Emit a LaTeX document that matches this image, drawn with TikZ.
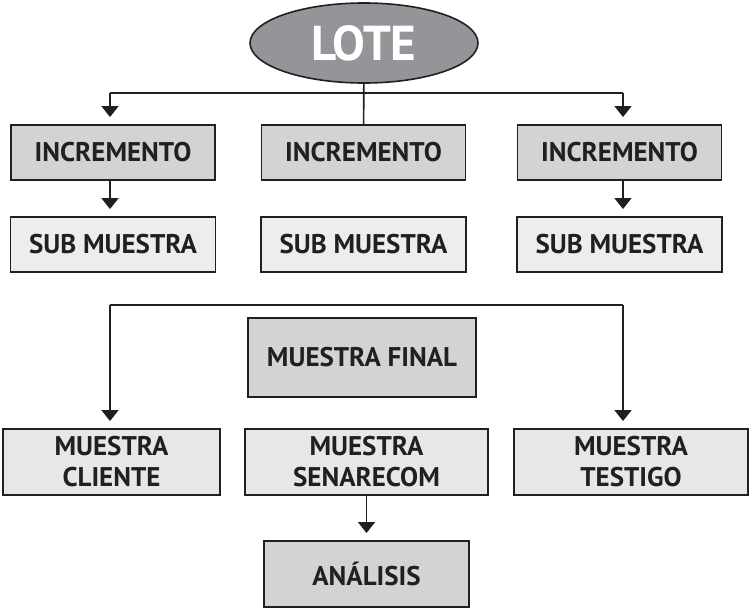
\documentclass[tikz,border=0pt]{standalone}
\usepackage{fontspec}
\setmainfont{PT Sans}
\usepackage{tikz}
\usetikzlibrary{arrows.meta}
\usetikzlibrary{shapes}

\definecolor{lotegray}{HTML}{939598}
\definecolor{midgray}{HTML}{D1D3D4}
\definecolor{lightgray}{HTML}{EDEDED}
\definecolor{palegray}{HTML}{E6E7E8}
\definecolor{inkdark}{HTML}{231F20}

\tikzset{
  caja/.style={draw=inkdark, line width=1.9pt, text=inkdark,
    font=\fontsize{27}{31}\selectfont\bfseries, align=center,
    inner sep=0pt, minimum height=55pt},
  inc/.style={caja, fill=midgray, minimum width=204pt},
  submu/.style={caja, fill=lightgray, minimum width=205pt},
  muestra/.style={caja, fill=palegray, minimum height=66pt},
  enlace/.style={draw=inkdark, line width=1.6pt},
  flecha/.style={enlace, ->, shorten >=7pt}
}

\begin{document}
\begin{tikzpicture}[x=1pt, y=1pt, >={Triangle[width=17pt,length=11pt]}]
  \useasboundingbox (0,0) rectangle (750,-608);

  % lote
  \node[ellipse, draw=inkdark, line width=1.6pt, fill=lotegray, text=white,
    minimum width=228pt, minimum height=80pt, inner sep=0pt,
    font=\fontsize{49}{49}\selectfont\bfseries] (lote) at (364,-43) {LOTE};

  % incrementos y sub muestras
  \foreach \n / \x in {1/113, 2/363.5, 3/619.5} {
    \node[inc] (inc\n) at (\x,-152.5) {INCREMENTO};
    \node[submu] (sub\n) at (\x,-244.5) {SUB MUESTRA};
  }

  \coordinate (split) at (363.5,-93);
  \coordinate (sl) at (110,-93);
  \coordinate (sr) at (623,-93);
  \draw[enlace] (lote) -- (inc2);
  \draw[enlace] (sl) -- (sr);
  \draw[flecha] (sl) -- (sl |- inc1.north);
  \draw[flecha] (sr) -- (sr |- inc3.north);
  \draw[flecha] (sl |- inc1.south) -- (sl |- sub1.north);
  \draw[flecha] (sr |- inc3.south) -- (sr |- sub3.north);

  % muestra final
  \node[caja, fill=midgray, minimum width=228pt, minimum height=79pt]
    (final) at (362,-357.5) {MUESTRA FINAL};

  \node[muestra, minimum width=217pt] (cliente) at (111.5,-462) {MUESTRA\\CLIENTE};
  \node[muestra, minimum width=243pt] (senarecom) at (366.5,-462) {MUESTRA\\SENARECOM};
  \node[muestra, minimum width=234pt] (testigo) at (631,-462) {MUESTRA\\TESTIGO};
  \node[caja, fill=midgray, minimum width=205pt, minimum height=66pt]
    (analisis) at (366.5,-574) {ANÁLISIS};

  \coordinate (fl) at (110,-305);
  \coordinate (fr) at (623,-305);
  \draw[enlace] (fl) -- (fr);
  \draw[flecha] (fl) -- (fl |- cliente.north);
  \draw[flecha] (fr) -- (fr |- testigo.north);
  \draw[flecha] (senarecom) -- (analisis);
\end{tikzpicture}
\end{document}
